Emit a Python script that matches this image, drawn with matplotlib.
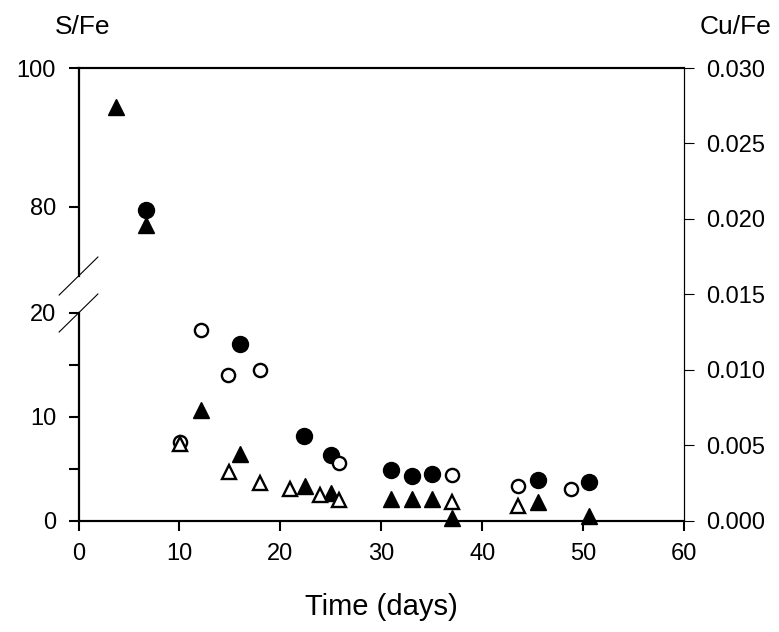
import numpy as np
import matplotlib
matplotlib.use("Agg")
from matplotlib import pyplot as plt
from matplotlib.ticker import FormatStrFormatter

plt.rcParams['font.family'] = ['Liberation Sans', 'DejaVu Sans']

# S/Fe (left, broken axis)
sfe_filled_days = [6.66, 16.0, 22.35, 25.0, 31.0, 33.0, 35.0, 45.5, 50.6]
sfe_filled = [79.5, 17.0, 8.15, 6.3, 4.9, 4.3, 4.45, 3.9, 3.7]
sfe_open_days = [10.1, 12.15, 14.85, 18.0, 25.8, 37.0, 43.5, 48.8]
sfe_open = [7.6, 18.4, 14.0, 14.5, 5.5, 4.4, 3.35, 3.05]

# Cu/Fe (right axis)
cufe_filled_days = [3.72, 6.66, 12.1, 16.05, 22.4, 25.0, 31.0, 33.0, 35.05, 37.05, 45.5, 50.6]
cufe_filled = [0.0274, 0.0196, 0.0073, 0.0044, 0.0023, 0.0018, 0.0014, 0.0014, 0.0014,
               0.00015, 0.00125, 0.0003]
cufe_open_days = [10.1, 14.9, 18.0, 21.0, 23.9, 25.85, 37.0, 43.5]
cufe_open = [0.0051, 0.0032, 0.0025, 0.0021, 0.0017, 0.00135, 0.0012, 0.00095]

left_ticks = [0, 5, 10, 15, 20, 80, 100]
left_labels = ['0', '', '10', '', '20', '80', '100']
right_ticks = [0.0, 0.005, 0.010, 0.015, 0.020, 0.025, 0.030]
x_ticks = [0, 10, 20, 30, 40, 50, 60]

# broken scale: 0-20 lower part, gap, 70-100 upper part
brk_vals = [0, 20, 70, 100]
brk_pos = [0, 0.4586, 0.5403, 1.0]


def fwd(y):
    return np.interp(y, brk_vals, brk_pos)


def inv(p):
    return np.interp(p, brk_pos, brk_vals)


fig = plt.figure(figsize=(7.79, 6.32), dpi=100)
ax = fig.add_axes([0.1008, 0.1764, 0.7773, 0.716])
ax.set_yscale('function', functions=(fwd, inv))
ax.set_xlim(0, 60)
ax.set_ylim(0, 100)
ax2 = ax.twinx()
ax2.set_ylim(0, 0.030)

fs = 17
ax.set_xticks(x_ticks)
ax.set_yticks(left_ticks)
ax.set_yticklabels(left_labels)
ax.yaxis.set_minor_locator(matplotlib.ticker.NullLocator())
ax.tick_params(axis='both', direction='out', length=7.2, width=1.5, labelsize=fs, pad=9)
ax2.set_yticks(right_ticks)
ax2.yaxis.set_major_formatter(FormatStrFormatter('%.3f'))
ax2.tick_params(axis='y', direction='out', length=7.2, width=0.8, labelsize=fs, pad=9)

for a in (ax, ax2):
    a.spines['left'].set_visible(False)
    a.spines['right'].set_linewidth(0.8)
    a.spines['top'].set_linewidth(1.5)
    a.spines['bottom'].set_linewidth(1.5)

# broken left spine
ytr = ax.get_yaxis_transform()
ax.plot([0, 0], [0, 20], color='black', lw=1.6, transform=ytr, clip_on=False, zorder=5)
ax.plot([0, 0], [70, 100], color='black', lw=1.6, transform=ytr, clip_on=False, zorder=5)
for v in (20, 70):
    c = fwd(v)
    ax.plot([-0.032, 0.032], [c - 0.042, c + 0.042], color='black', lw=0.8,
            transform=ax.transAxes, clip_on=False, zorder=5)

ms = 10.5
ax.plot(sfe_filled_days, sfe_filled, 'o', color='black', ms=ms + 1, zorder=3, clip_on=False)
ax.plot(sfe_open_days, sfe_open, 'o', mfc='white', mec='black', mew=1.7, ms=ms - 1,
        zorder=4, clip_on=False)
ax2.plot(cufe_filled_days, cufe_filled, '^', color='black', ms=ms + 1, zorder=3, clip_on=False)
ax2.plot(cufe_open_days, cufe_open, '^', mfc='white', mec='black', mew=1.7, ms=ms,
         zorder=4, clip_on=False)

ax.set_xlabel('Time (days)', fontsize=21, labelpad=20)
fig.text(0.0706, 0.957, 'S/Fe', fontsize=19, ha='left', va='center')
fig.text(0.99, 0.957, 'Cu/Fe', fontsize=19, ha='right', va='center')

fig.savefig('out.png', dpi=100)
